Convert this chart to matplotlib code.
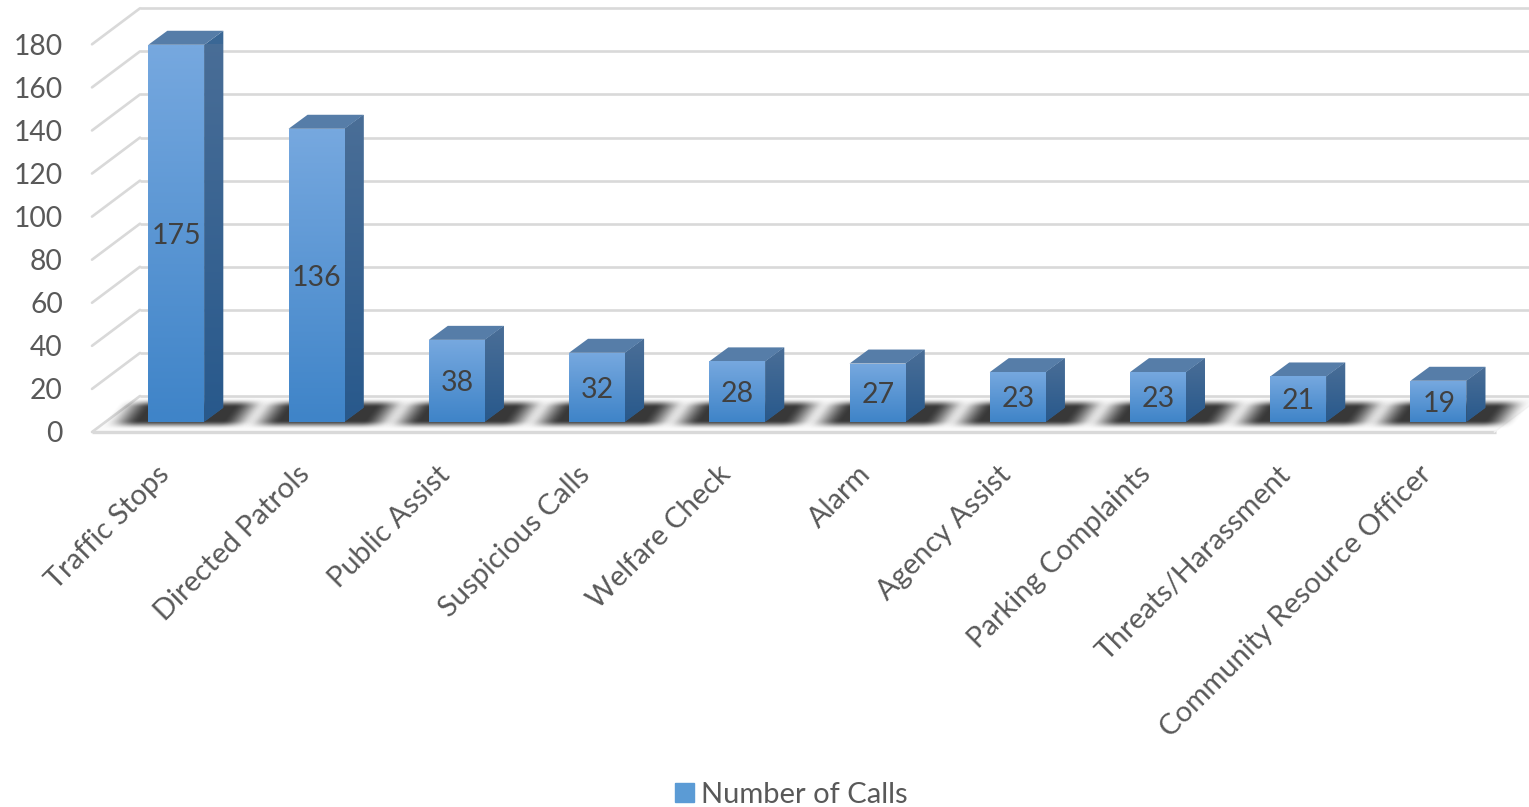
import numpy as np
import matplotlib
matplotlib.use("Agg")
import matplotlib.pyplot as plt
from matplotlib.patches import Polygon, Patch
from matplotlib.transforms import Affine2D
from matplotlib.colors import to_rgb

categories = ["Traffic Stops", "Directed Patrols", "Public Assist", "Suspicious Calls",
              "Welfare Check", "Alarm", "Agency Assist", "Parking Complaints",
              "Threats/Harassment", "Community Resource Officer"]
calls = [175, 136, 38, 32, 28, 27, 23, 23, 21, 19]
value_ticks = [0, 20, 40, 60, 80, 100, 120, 140, 160, 180]
series_name = "Number of Calls"

W, H = 1529, 807
plt.rcParams['font.family'] = ['Lato', 'DejaVu Sans']
fig = plt.figure(figsize=(W / 100, H / 100), dpi=100, facecolor='white')

# front plane of the 3D box, in pixels
left, right, base, top = 92, 1494.4, 432, 44.3
ax = fig.add_axes([left / W, 1 - base / H, (right - left) / W, (base - top) / H])
ax.set_xlim(-0.5, 9.5)
ax.set_ylim(0, 180)
ax.patch.set_visible(False)
for s in ax.spines.values():
    s.set_visible(False)

px_x = (right - left) / 10      # pixels per category
px_y = (base - top) / 180       # pixels per unit


def plane(dx, dy):
    return ax.transData + Affine2D().translate(dx, dy)


wall = plane(48, 36)
bars_plane = plane(14.2, 10.3)
label_plane = plane(14.6, 8.0)
GRID = '#d9d9d9'

# floor
floor_x = [-0.5, 9.5, 9.5 + 48 / px_x, -0.5 + 48 / px_x]
floor_y = [0, 0, 36 / px_y, 36 / px_y]
ax.add_patch(Polygon(list(zip(floor_x, floor_y)), closed=True, fc='#fafafa', ec='none',
                     zorder=1, clip_on=False))

# walls grid
for v in value_ticks:
    ax.plot([-0.5, 9.5 + 1], [v, v], transform=wall, color=GRID, lw=1.9, zorder=1.2,
            clip_on=False, solid_capstyle='butt')
    ax.plot([-0.5, -0.5 + 48 / px_x], [v, v + 36 / px_y], color=GRID, lw=1.9, zorder=1.2,
            clip_on=False, solid_capstyle='round')
ax.plot([-0.5, 9.5 + 1.5 / px_x], [0, 0], color=GRID, lw=2.4, zorder=1.3, clip_on=False,
        solid_capstyle='butt')
ax.plot([9.5, 9.5 + 48 / px_x], [0, 36 / px_y], color='#f4f4f4', lw=1.0, zorder=1.3, clip_on=False)


def ramp(t):
    t = np.clip(t, 0, 1)
    return t * t * (3 - 2 * t)


# floor shadows
us = np.arange(-75, 101, 1.0)
ys = np.arange(396, 432, 0.5)     # rows: pixel y below figure top, in the bar plane
uu, yy = np.meshgrid(us, ys)
sh = (yy - 413) * 0.75
a = ramp((uu + 66 + sh) / 36) * ramp((86 - sh - uu) / 34)
a = a * ramp((yy - 398) / 9) * ramp((429 - yy) / 9) * 0.92
shadow = np.zeros(a.shape + (4,))
shadow[..., :3] = 0.15
shadow[..., 3] = a
val = lambda y: (421 - y) / px_y
for i in range(len(calls)):
    ax.imshow(shadow, extent=[i + us[0] / px_x, i + us[-1] / px_x, val(ys[-1]), val(ys[0])],
              origin='upper', aspect='auto', transform=bars_plane, zorder=1.5,
              interpolation='bilinear', clip_on=False)


def gradient(c_top, c_bot):
    t = np.linspace(0, 1, 64)[:, None, None]
    return np.clip((1 - t) * np.array(to_rgb(c_top)) + t * np.array(to_rgb(c_bot)), 0, 1)


bw = 56.0 / px_x
ddx, ddy = 19 / px_x, 14 / px_y
front_grad = gradient('#76a8df', '#3f84c8')
side_grad = gradient('#4a6e97', '#28598c')

rects = ax.bar(range(len(calls)), calls, width=bw, transform=bars_plane, color='#5b9bd5',
               edgecolor='none', zorder=3, clip_on=False, label=series_name)
for i, (v, r) in enumerate(zip(calls, rects)):
    x0, x1 = i - bw / 2, i + bw / 2
    im = ax.imshow(front_grad, extent=[x0, x1, 0, v], origin='upper', aspect='auto',
                   transform=bars_plane, zorder=3.1, interpolation='bilinear')
    im.set_clip_path(r)
    side = Polygon([(x1, 0), (x1 + ddx, ddy), (x1 + ddx, v + ddy), (x1, v)], closed=True,
                   transform=bars_plane, fc='#3a6795', ec='none', zorder=2.9, clip_on=False)
    ax.add_patch(side)
    im2 = ax.imshow(side_grad, extent=[x1, x1 + ddx, 0, v + ddy], origin='upper', aspect='auto',
                    transform=bars_plane, zorder=3.0, interpolation='bilinear')
    im2.set_clip_path(side)
    ax.add_patch(Polygon([(x0, v), (x1, v), (x1 + ddx, v + ddy), (x0 + ddx, v + ddy)], closed=True,
                         transform=bars_plane, fc='#567da8', ec='none', zorder=3.0, clip_on=False))
    ax.text(i, v / 2, str(v), transform=label_plane, ha='center', va='center', fontsize=20.5,
            color='#404040', zorder=4)

ax.set_xlim(-0.5, 9.5)
ax.set_ylim(0, 180)

# axes labels
ax.set_yticks(value_ticks)
ax.set_yticklabels([str(v) for v in value_ticks], fontsize=20.3, color='#595959')
ax.tick_params(axis='y', length=0, pad=21)
ax.set_xticks(range(len(categories)))
ax.set_xticklabels(categories, fontsize=20.9, color='#595959', rotation=45, ha='right',
                   va='top', rotation_mode='anchor')
ax.tick_params(axis='x', length=0, pad=21)
shift = Affine2D().translate(-6, 0)
for lab in ax.get_xticklabels():
    lab.set_transform(lab.get_transform() + shift)

# legend
leg = fig.legend(handles=[Patch(color='#5b9bd5', label=series_name)], loc='lower left',
                 bbox_to_anchor=(655 / W, -21 / H), frameon=False, fontsize=21,
                 labelcolor='#595959', handlelength=0.62, handleheight=0.62, handletextpad=0.26,
                 borderpad=0.2)
fig.canvas.draw()
box = leg.get_patches()[0].get_window_extent()
grad_n = max(int(round(box.height)), 2)
t = np.linspace(0, 1, grad_n)[:, None, None]
swatch = (1 - t) * np.array(to_rgb('#76a8df')) + t * np.array(to_rgb('#3f84c8'))
swatch = np.repeat(swatch, max(int(round(box.width)), 2), axis=1)
fig.figimage(swatch, xo=int(round(box.x0)), yo=int(round(box.y0)), origin='upper', zorder=5)

fig.savefig('out.png', dpi=100)
